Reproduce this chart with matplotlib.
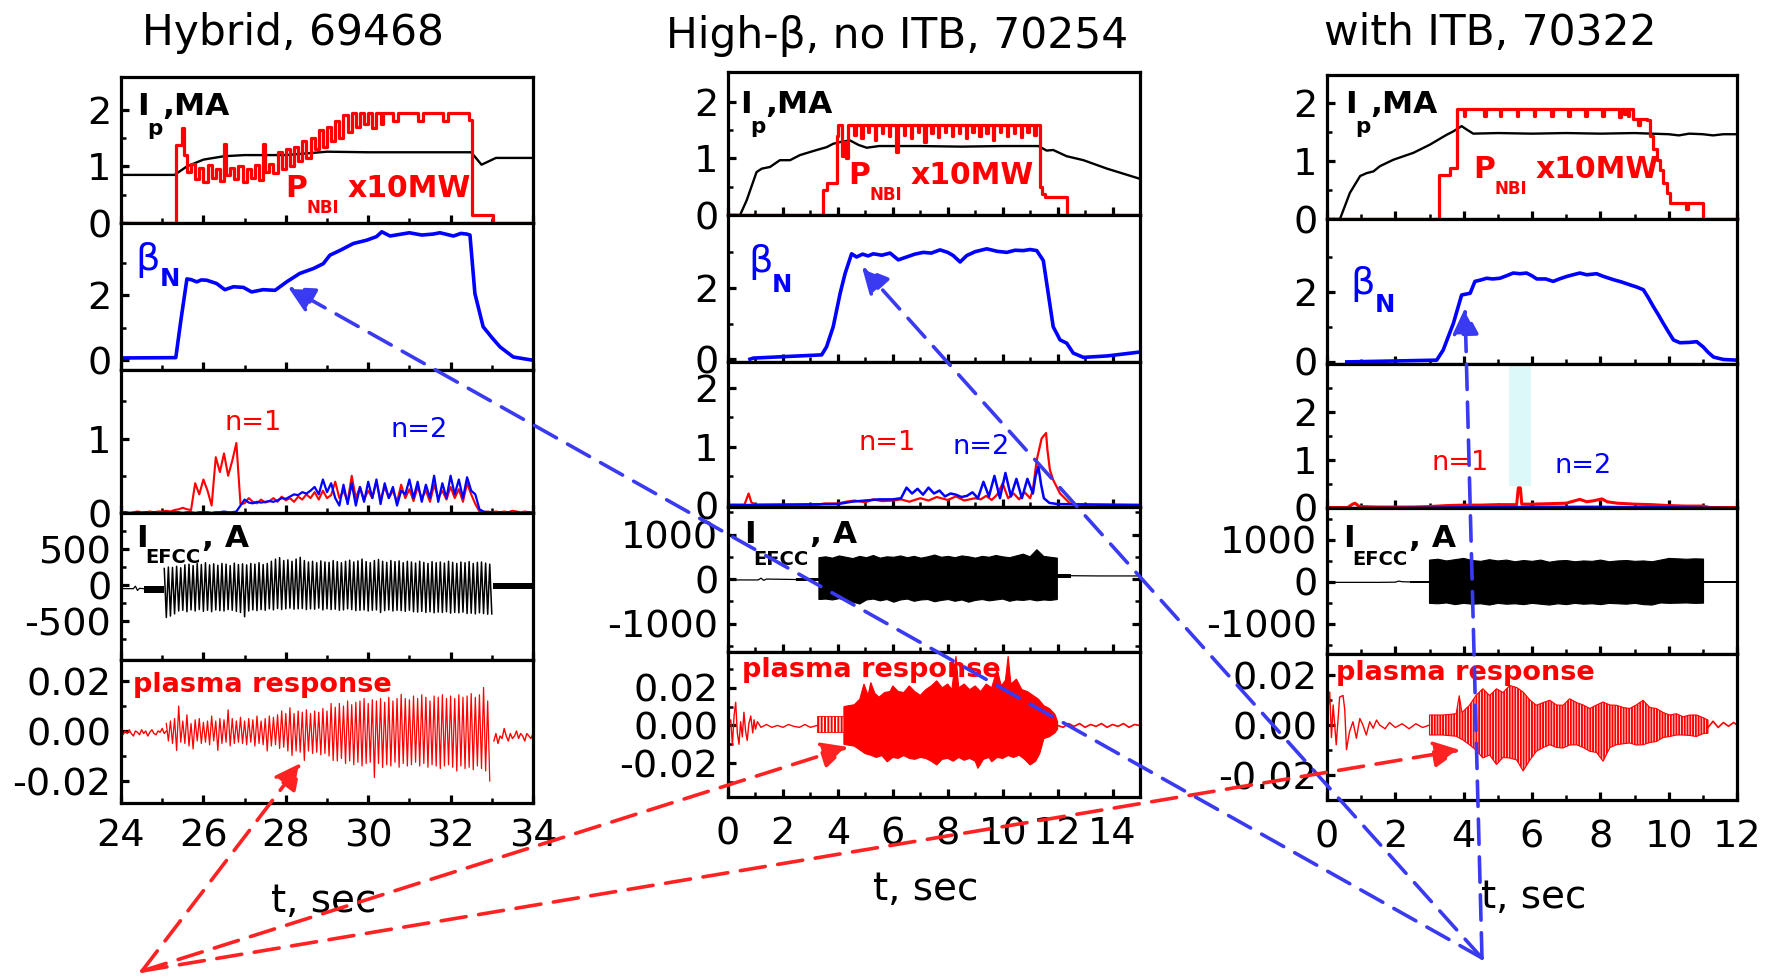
import numpy as np
import matplotlib
matplotlib.use("Agg")
import matplotlib.pyplot as plt
from matplotlib.patches import FancyArrowPatch, Rectangle
from matplotlib.ticker import FixedLocator, FormatStrFormatter

plt.rcParams["font.family"] = ["DejaVu Sans"]
plt.rcParams["axes.unicode_minus"] = False
plt.rcParams["hatch.linewidth"] = 1.4

# ---------------------------------------------------------------- data
TITLES = ["Hybrid, 69468", "High-\u03b2, no ITB, 70254", "with ITB, 70322"]

# ---- shot 69468 (hybrid)
ip1 = [(24.0, 0.85), (25.3, 0.85), (25.6, 1.0), (26.0, 1.12), (26.5, 1.18), (27.0, 1.2),
       (28.0, 1.2), (29.0, 1.26), (30.0, 1.25), (31.0, 1.25), (32.0, 1.25), (32.5, 1.25),
       (32.75, 1.03), (33.1, 1.15), (34.0, 1.15)]
pnbi1 = [(24.0, 0), (25.33, 1.38), (25.48, 1.68), (25.53, 1.2), (25.61, 0.9), (25.7, 1.05),
         (25.8, 0.78), (25.9, 0.98), (26.0, 0.72), (26.1, 1.02), (26.2, 0.8), (26.3, 0.95),
         (26.4, 0.74), (26.5, 1.4), (26.55, 0.85), (26.65, 0.98), (26.75, 0.78), (26.85, 1.0),
         (26.95, 0.72), (27.05, 0.95), (27.15, 0.8), (27.25, 1.02), (27.35, 0.76), (27.45, 1.4),
         (27.5, 0.9), (27.6, 1.05), (27.7, 0.88), (27.8, 1.25), (27.9, 0.95), (28.0, 1.3),
         (28.1, 1.0), (28.2, 1.35), (28.3, 1.1), (28.4, 1.45), (28.5, 1.15), (28.6, 1.5),
         (28.7, 1.3), (28.8, 1.65), (28.9, 1.35), (29.0, 1.7), (29.1, 1.45), (29.2, 1.8),
         (29.3, 1.5), (29.4, 1.9), (29.5, 1.6), (29.6, 1.94), (29.7, 1.7), (29.8, 1.94),
         (29.9, 1.75), (30.0, 1.94), (30.1, 1.68), (30.2, 1.94), (30.3, 1.75), (30.35, 1.94),
         (30.6, 1.8), (30.73, 1.94), (31.22, 1.8), (31.34, 1.94), (31.82, 1.8), (31.94, 1.94),
         (32.45, 1.82), (32.53, 0.15), (33.04, 0.0), (34.0, 0.0)]
beta1 = [(24.0, 0.07), (25.33, 0.08), (25.45, 1.2), (25.6, 2.5), (25.7, 2.48), (25.84, 2.41),
         (25.95, 2.47), (26.08, 2.46), (26.32, 2.36), (26.52, 2.17), (26.73, 2.26), (26.97, 2.24),
         (27.17, 2.1), (27.45, 2.17), (27.74, 2.15), (28.02, 2.41), (28.34, 2.67), (28.67, 2.82),
         (28.91, 2.97), (29.07, 3.23), (29.32, 3.38), (29.64, 3.59), (29.96, 3.69), (30.2, 3.8),
         (30.33, 3.95), (30.53, 3.82), (31.0, 3.92), (31.3, 3.85), (31.58, 3.88), (31.74, 3.92),
         (32.07, 3.82), (32.25, 3.9), (32.39, 3.88), (32.47, 3.85), (32.59, 2.05), (32.79, 1.03),
         (33.0, 0.7), (33.2, 0.41), (33.52, 0.1), (34.0, 0.0)]
# mode amplitudes sampled every 0.1 s from t = 24.0
n1_1 = [0.01, 0.01, 0.0, 0.01, 0.02, 0.01, 0.01, 0.02, 0.01, 0.02, 0.02, 0.03, 0.02, 0.04, 0.05,
        0.07, 0.05, 0.04, 0.4, 0.25, 0.45, 0.3, 0.1, 0.75, 0.55, 0.8, 0.5, 0.7, 0.94, 0.12,
        0.13, 0.2, 0.15, 0.13, 0.18, 0.14, 0.16, 0.2, 0.15, 0.22, 0.17, 0.2, 0.15, 0.22, 0.18,
        0.25, 0.2, 0.28, 0.18, 0.3,
        0.2, 0.24, 0.42, 0.2, 0.3, 0.15, 0.5, 0.2, 0.35, 0.18, 0.3, 0.2, 0.42, 0.18, 0.35,
        0.2, 0.3, 0.15, 0.38, 0.2,
        0.32, 0.16, 0.35, 0.2, 0.3, 0.15, 0.38, 0.2, 0.3, 0.18, 0.35, 0.2, 0.32, 0.15, 0.4,
        0.25, 0.12, 0.02, 0.01, 0.02,
        0.01, 0.02, 0.01, 0.02, 0.01, 0.03, 0.02, 0.01, 0.02, 0.01, 0.01]
n2_1 = [0.0, 0.01, 0.0, 0.0, 0.01, 0.0, 0.01, 0.0, 0.01, 0.0, 0.0, 0.01, 0.0, 0.01, 0.01,
        0.0, 0.01, 0.01, 0.0, 0.01, 0.01, 0.01, 0.0, 0.01, 0.01, 0.02, 0.01, 0.01, 0.02,
        0.1, 0.18, 0.14, 0.13, 0.15, 0.14, 0.15, 0.16, 0.15, 0.17, 0.2, 0.19, 0.22, 0.25, 0.24,
        0.28, 0.26, 0.3, 0.35, 0.25, 0.45,
        0.28, 0.4, 0.2, 0.1, 0.38, 0.12, 0.4, 0.1, 0.35, 0.15, 0.42, 0.2, 0.45, 0.12, 0.4,
        0.2, 0.35, 0.1, 0.3, 0.25,
        0.45, 0.2, 0.42, 0.15, 0.38, 0.2, 0.5, 0.15, 0.4, 0.2, 0.5, 0.25, 0.45, 0.2, 0.48,
        0.3, 0.25, 0.05, 0.02, 0.01,
        0.01, 0.0, 0.01, 0.0, 0.01, 0.0, 0.01, 0.0, 0.0, 0.01, 0.0]
# EFCC current: peak / trough of each 0.1 s cycle from t = 25.05
efcc1_up = [230, 250, 245, 260, 240, 280, 290, 270, 300, 285, 310, 280, 295, 275, 300, 290, 270, 305, 285, 295,
            280, 300, 290, 310, 285, 300, 330, 360, 380, 340, 350, 330, 360, 385, 340, 320, 330, 310, 335, 320,
            315, 340, 325, 310, 330, 345, 320, 335, 360, 325, 310, 340, 355, 330, 315, 340, 325, 335, 310, 330,
            320, 305, 330, 315, 300, 325, 310, 320, 305, 330, 315, 300, 320, 310, 325, 300, 315, 320, 305, 290]
efcc1_lo = [-450, -430, -400, -360, -350, -370, -345, -360, -340, -365, -350, -370, -345, -355, -360, -340, -350, -365, -380, -440,
            -360, -345, -355, -340, -350, -330, -345, -325, -340, -330, -320, -335, -330, -325, -340, -330, -335, -320, -345, -330,
            -340, -335, -350, -345, -330, -340, -355, -350, -345, -360, -350, -345, -380, -355, -345, -360, -350, -355, -365, -350,
            -370, -375, -365, -380, -370, -385, -375, -380, -370, -390, -380, -385, -375, -395, -390, -400, -385, -395, -405, -400]
efcc1_base = [(24.0, -50), (24.3, -50), (24.35, -15), (24.4, -75), (24.45, -45), (24.55, -50)]
efcc1_quiet = [(24.55, 25.05, -110, -10), (33.03, 34.0, -50, 30)]
# plasma response (x1e-3): pre/post noise and per-cycle extremes from t = 25.1
resp1_pre = [-0.5, -1.5, 0, -1, 0.5, -1, -2, 0, -0.5, -1.5, 0.5, -1, 0, -2, -0.5, 0.5, -1, -1.5, 0,
             -0.5, 1, -1, 0]
resp1_up = [3, 4, 5, 10, 4, 6.5, 3, 4.5, 5, 3.5, 4, 6, 4, 5, 4.5, 8.5, 5, 4, 5.5, 4,
            5, 4.5, 6, 4, 5, 6, 5.5, 6.5, 8, 7, 9.3, 7, 8, 7.5, 8.5, 7, 8, 7.5, 9, 8,
            11, 9.5, 11, 10, 12, 10.5, 11.5, 12, 13, 11, 12.5, 12, 13, 11.5, 13.5, 12, 13, 14.7, 13, 12.5,
            14, 13, 14.5, 13.5, 12, 14, 13.5, 14.5, 13, 14, 13, 14.5, 13.5, 14, 15, 13.5, 14.5, 17.4, 12]
resp1_lo = [-4, -5, -7.8, -4.5, -5, -6, -7.2, -4, -5, -4.5, -5.5, -4, -7.8, -5, -4.5, -6, -5, -4.5, -5, -5.5,
            -4.5, -6, -5, -5.5, -8, -6, -5.5, -7, -6.5, -8, -9.8, -8, -8.5, -11.8, -8, -9, -8.5, -9.5, -9, -10,
            -11.8, -12, -11, -13, -12, -13.5, -12.5, -14, -13, -12.5, -18.6, -13, -14.6, -13.5, -14, -12.5, -14.5, -13, -14, -13.5,
            -12.5, -14, -13, -14.5, -13.5, -14, -15, -14, -13.5, -14.5, -16, -14, -15, -14.5, -15.5, -14, -15, -16, -20]
resp1_post = [-4, -1, -5, -2, -3, 1, -2, -4, -1, -3, -2, 0, -3, -1, -2, -4, -1, -2, -3, -1]

# ---- shot 70254 (high beta, no ITB)
ip2 = [(0.0, 0.0), (0.44, 0.0), (0.68, 0.26), (1.04, 0.76), (1.23, 0.82), (1.53, 0.85), (1.89, 0.97),
       (2.26, 0.97), (2.62, 1.06), (3.23, 1.15), (3.59, 1.2), (3.83, 1.26), (4.08, 1.29), (4.44, 1.32),
       (4.75, 1.24), (5.05, 1.19), (5.5, 1.22), (7.0, 1.22), (8.5, 1.21), (10.0, 1.22), (11.3, 1.22),
       (11.6, 1.14), (11.84, 1.15), (12.33, 1.04), (12.94, 0.97), (13.8, 0.82), (15.0, 0.64)]
pnbi2 = [(0.0, 0.0), (3.45, 0.44), (3.59, 0.56), (3.96, 1.4), (4.02, 1.59), (4.15, 1.05), (4.22, 1.3),
         (4.3, 1.0), (4.36, 1.59), (4.6, 1.42), (4.65, 1.59), (4.85, 1.36), (4.9, 1.59), (5.1, 1.47),
         (5.15, 1.59), (5.35, 1.32), (5.4, 1.59), (5.6, 1.45), (5.65, 1.59), (5.85, 1.4), (5.9, 1.59),
         (6.1, 1.12), (6.18, 1.59), (6.4, 1.42), (6.45, 1.59), (6.65, 1.36), (6.7, 1.59), (6.9, 1.47),
         (6.95, 1.59), (7.15, 1.3), (7.2, 1.59), (7.4, 1.45), (7.45, 1.59), (7.65, 1.38), (7.7, 1.59),
         (7.9, 1.47), (7.95, 1.59), (8.15, 1.4), (8.2, 1.59), (8.4, 1.45), (8.45, 1.59), (8.65, 1.36),
         (8.7, 1.59), (8.9, 1.47), (8.95, 1.59), (9.15, 1.4), (9.2, 1.59), (9.4, 1.45), (9.45, 1.59),
         (9.65, 1.33), (9.7, 1.59), (9.9, 1.47), (9.95, 1.59), (10.15, 1.4), (10.2, 1.59), (10.4, 1.45),
         (10.45, 1.59), (10.65, 1.38), (10.7, 1.59), (10.9, 1.47), (10.95, 1.59), (11.15, 1.42),
         (11.2, 1.59), (11.36, 0.5), (11.42, 0.38), (11.55, 0.32), (12.33, 0.0), (15.0, 0.0)]
beta2 = [(0.8, 0.0), (0.92, 0.03), (3.41, 0.12), (3.59, 0.35), (3.83, 0.91), (4.08, 1.84), (4.26, 2.4),
         (4.5, 2.96), (4.68, 2.87), (4.9, 2.95), (5.1, 2.9), (5.29, 2.96), (5.6, 2.92), (5.9, 2.98),
         (6.2, 2.79), (6.5, 2.87), (6.8, 2.95), (7.11, 3.0), (7.4, 2.98), (7.72, 3.07), (8.0, 3.0),
         (8.2, 2.91), (8.45, 2.73), (8.69, 2.91), (9.0, 3.02), (9.42, 3.1), (9.8, 3.03), (10.15, 3.0),
         (10.45, 3.06), (10.75, 3.05), (11.0, 3.08), (11.24, 3.05), (11.48, 2.77), (11.66, 1.84),
         (11.84, 0.91), (12.09, 0.54), (12.33, 0.45), (12.57, 0.17), (12.94, 0.05), (13.8, 0.09),
         (15.0, 0.2)]
n1_2 = [(0.0, 0.01), (0.6, 0.01), (0.75, 0.2), (0.85, 0.05), (1.0, 0.01), (3.3, 0.01), (3.5, 0.03),
        (4.0, 0.03), (4.3, 0.06), (4.6, 0.08), (5.0, 0.05), (5.3, 0.1), (5.6, 0.07), (6.0, 0.08),
        (6.3, 0.1), (6.6, 0.06), (7.0, 0.12), (7.3, 0.08), (7.6, 0.14), (8.0, 0.09), (8.3, 0.15),
        (8.6, 0.08), (9.0, 0.12), (9.2, 0.1), (9.4, 0.16), (9.6, 0.09), (9.8, 0.18), (10.0, 0.37),
        (10.2, 0.12), (10.4, 0.2), (10.6, 0.1), (10.8, 0.22), (11.0, 0.12), (11.1, 0.26), (11.24, 0.77),
        (11.42, 1.14), (11.58, 1.23), (11.63, 0.94), (11.72, 0.6), (11.84, 0.43), (12.09, 0.2),
        (12.45, 0.03), (12.6, 0.01), (15.0, 0.01)]
n2_2 = [(0.0, 0.0), (4.0, 0.02), (4.5, 0.06), (5.0, 0.08), (5.5, 0.1), (6.0, 0.1), (6.3, 0.12),
        (6.5, 0.3), (6.7, 0.2), (6.9, 0.28), (7.1, 0.18), (7.3, 0.3), (7.5, 0.2), (7.7, 0.25),
        (7.9, 0.15), (8.1, 0.2), (8.3, 0.18), (8.5, 0.14), (8.7, 0.16), (8.9, 0.22), (9.1, 0.12),
        (9.3, 0.4), (9.5, 0.15), (9.7, 0.5), (9.9, 0.12), (10.1, 0.55), (10.3, 0.15), (10.5, 0.45),
        (10.7, 0.12), (10.9, 0.45), (11.1, 0.2), (11.2, 0.5), (11.3, 0.66), (11.4, 0.35), (11.5, 0.12),
        (11.7, 0.04), (12.0, 0.02), (15.0, 0.0)]
efcc2_base = [(0.0, -20), (1.1, -20), (1.2, 20), (1.3, -30), (1.4, 0), (2.46, -10)]
efcc2_post = [(12.5, 75), (13.5, 70), (15.0, 70)]
efcc2_quiet = [(2.46, 3.31, -45, 25), (11.99, 12.5, 30, 110)]
efcc2_span = (3.31, 11.99)
efcc2_up = [480, 500, 470, 520, 490, 460, 510, 480, 530, 470, 500, 490, 520, 480, 510, 470, 500, 540,
            490, 510, 480, 520, 500, 470, 510, 490, 530, 500, 480, 520, 560, 500, 660, 510, 490, 470]
efcc2_lo = [-460, -450, -470, -440, -480, -520, -560, -470, -450, -490, -460, -520, -470, -450, -500, -470,
            -460, -510, -480, -460, -500, -470, -520, -480, -460, -490, -470, -450, -500, -470, -480, -460,
            -490, -470, -480, -460]
resp2_pre = [(0.0, 0), (0.1, 3), (0.16, -10.5), (0.22, 5), (0.28, 12.3), (0.34, -4), (0.4, -10), (0.46, 2),
             (0.52, -6), (0.58, 7), (0.64, -3), (0.7, -8), (0.76, 1), (0.83, 5), (0.9, -4), (0.95, 3),
             (1.0, -2), (1.07, 2), (1.2, -1), (1.4, 0.5), (1.6, -1), (1.8, 0), (2.0, -1), (2.2, 0.5),
             (2.4, -0.5), (2.6, -1), (2.8, 0.5), (3.0, -1), (3.25, 0)]
resp2_quiet = (3.25, 4.22, -3.5, 5)
resp2_up = [(4.22, 10), (4.4, 10.5), (4.6, 11), (4.8, 14), (4.95, 22), (5.1, 16), (5.2, 22.8), (5.35, 17),
            (5.5, 15), (5.7, 17.5), (5.9, 18), (6.0, 21), (6.2, 18), (6.4, 17.5), (6.6, 21), (6.8, 18),
            (7.0, 16), (7.2, 19), (7.4, 21), (7.6, 23.7), (7.8, 20), (8.0, 22), (8.15, 19), (8.3, 36.8),
            (8.4, 20), (8.6, 22), (8.8, 19), (9.0, 21), (9.2, 18), (9.4, 22), (9.6, 20), (9.8, 29.8),
            (9.95, 21), (10.1, 24), (10.2, 36.8), (10.3, 22), (10.5, 24.6), (10.7, 19), (10.9, 18),
            (11.1, 16), (11.3, 14), (11.5, 10.5), (11.7, 9), (11.9, 6), (12.0, 2)]
resp2_lo = [(4.22, -10), (4.4, -10.5), (4.6, -11), (4.8, -13), (5.0, -15), (5.2, -15.8), (5.4, -17),
            (5.6, -16), (5.8, -19.3), (6.0, -17), (6.2, -17.5), (6.4, -16), (6.6, -17.5), (6.8, -18),
            (7.0, -17), (7.2, -17.5), (7.4, -19), (7.6, -21), (7.8, -18), (8.0, -17.5), (8.2, -19),
            (8.4, -17), (8.6, -18.5), (8.8, -17.5), (9.0, -19), (9.1, -22.8), (9.3, -18), (9.5, -17),
            (9.6, -19.3), (9.8, -17), (10.0, -17.5), (10.2, -16), (10.4, -17), (10.6, -15.8), (10.8, -18),
            (11.0, -21), (11.2, -19), (11.35, -15), (11.5, -7), (11.7, -6), (11.9, -4), (12.0, -2)]
resp2_post = [(12.0, 0), (12.2, -1), (12.4, 1), (12.6, -0.5), (12.8, 1), (13.0, -1), (13.2, 0.5),
              (13.4, -0.5), (13.6, 1), (13.8, -1), (14.0, 0.5), (14.2, -0.5), (14.4, 1), (14.6, -1),
              (14.8, 0.5), (15.0, 0)]

# ---- shot 70322 (with ITB)
ip3 = [(0.0, 0.0), (0.38, 0.0), (0.67, 0.45), (0.97, 0.74), (1.16, 0.79), (1.36, 0.82), (1.55, 0.91),
       (1.94, 1.02), (2.53, 1.14), (3.01, 1.28), (3.5, 1.45), (3.7, 1.51), (3.94, 1.6), (4.09, 1.54),
       (4.28, 1.47), (5.0, 1.48), (6.0, 1.47), (7.0, 1.48), (8.0, 1.47), (9.0, 1.48), (10.0, 1.46),
       (10.3, 1.44), (10.6, 1.47), (11.0, 1.46), (11.3, 1.44), (11.6, 1.46), (12.0, 1.46)]
pnbi3 = [(0.0, 0.0), (3.29, 0.75), (3.6, 0.88), (3.8, 1.9), (4.0, 1.77), (4.05, 1.9), (4.6, 1.77),
         (4.65, 1.9), (5.05, 1.77), (5.1, 1.9), (5.55, 1.77), (5.6, 1.9), (6.05, 1.77), (6.1, 1.9),
         (6.55, 1.77), (6.6, 1.9), (7.05, 1.77), (7.1, 1.9), (7.55, 1.77), (7.6, 1.9), (8.05, 1.77),
         (8.1, 1.9), (8.55, 1.75), (8.6, 1.9), (8.7, 1.8), (8.75, 1.9), (8.8, 1.78), (8.85, 1.9),
         (8.97, 1.72), (9.1, 1.62), (9.15, 1.72), (9.36, 1.71), (9.45, 1.43), (9.55, 1.2), (9.65, 1.02),
         (9.75, 0.85), (9.84, 0.62), (9.94, 0.45), (10.04, 0.28), (10.5, 0.18), (10.56, 0.28),
         (11.0, 0.0), (12.0, 0.0)]
beta3 = [(0.58, 0.0), (3.21, 0.05), (3.4, 0.34), (3.7, 1.11), (3.94, 1.92), (4.19, 1.97), (4.33, 2.31),
         (4.5, 2.35), (4.67, 2.4), (4.85, 2.38), (5.06, 2.4), (5.25, 2.47), (5.45, 2.55), (5.65, 2.53),
         (5.84, 2.55), (6.0, 2.47), (6.14, 2.38), (6.4, 2.38), (6.62, 2.31), (6.8, 2.38), (7.01, 2.45),
         (7.2, 2.5), (7.4, 2.55), (7.6, 2.5), (7.89, 2.53), (8.1, 2.45), (8.38, 2.36), (8.6, 2.3),
         (8.87, 2.21), (9.06, 2.15), (9.26, 2.07), (9.4, 1.85), (9.55, 1.59), (9.7, 1.35), (9.84, 1.11),
         (10.0, 0.85), (10.14, 0.63), (10.33, 0.55), (10.6, 0.56), (10.82, 0.58), (11.01, 0.43),
         (11.15, 0.28), (11.31, 0.14), (11.6, 0.07), (12.0, 0.05)]
n1_3 = [(0.0, 0.01), (0.6, 0.01), (0.75, 0.08), (0.82, 0.1), (0.95, 0.03), (1.5, 0.02), (2.5, 0.02),
        (3.0, 0.03), (3.5, 0.05), (4.0, 0.06), (4.5, 0.06), (5.0, 0.07), (5.55, 0.07), (5.6, 0.42),
        (5.66, 0.42), (5.7, 0.08), (6.0, 0.08), (6.5, 0.09), (7.0, 0.1), (7.2, 0.14), (7.4, 0.18),
        (7.6, 0.13), (7.8, 0.15), (8.05, 0.19), (8.2, 0.13), (8.5, 0.1), (9.0, 0.08), (9.5, 0.07),
        (10.0, 0.05), (10.5, 0.04), (11.0, 0.04), (11.2, 0.01), (12.0, 0.01)]
n2_3 = [(0.0, 0.0), (3.0, 0.01), (4.0, 0.02), (5.0, 0.02), (6.0, 0.03), (7.0, 0.03), (8.0, 0.03),
        (9.0, 0.02), (10.0, 0.02), (11.0, 0.01), (12.0, 0.0)]
itb_band = (5.34, 5.96, 0.46)          # t start, t end, lower edge
efcc3_base = [(0.0, -10), (1.5, -10), (2.0, -5), (2.1, 20), (2.2, 5), (2.42, 0)]
efcc3_quiet = [(2.42, 3.0, -25, 25), (11.02, 12.0, -20, 30)]
efcc3_span = (3.0, 11.02)
efcc3_up = [520, 540, 500, 530, 560, 510, 490, 530, 500, 520, 480, 510, 490, 520, 470, 500, 510,
            480, 500, 490, 520, 480, 500, 510, 490, 500, 480, 520, 560, 550, 540, 550, 545]
efcc3_lo = [-510, -520, -500, -540, -510, -530, -520, -550, -510, -530, -520, -540, -510, -530, -550,
            -520, -540, -510, -530, -520, -540, -510, -520, -530, -510, -540, -550, -500, -510, -505,
            -500, -510, -505]
resp3_pre = [(0.0, 2), (0.08, 13.2), (0.13, -5), (0.18, 8), (0.27, -7.9), (0.37, 11.2), (0.47, 11.8),
             (0.52, 6), (0.57, -9.9), (0.66, -2.6), (0.76, 1.3), (0.86, -5.3), (0.96, 2.6), (1.05, 0),
             (1.15, -4), (1.25, 1.3), (1.35, -1.3), (1.45, 2), (1.54, 0), (1.7, -1.5), (1.83, 1),
             (2.0, -1), (2.2, 0.5), (2.4, -1.5), (2.6, 0.5), (2.8, -1), (3.0, 0)]
resp3_up = [(3.0, 4), (3.39, 4), (3.78, 4.5), (3.87, 11.8), (3.95, 5), (4.17, 7.9), (4.36, 11.8),
            (4.56, 14.5), (4.76, 11.8), (4.96, 14.5), (5.15, 13), (5.35, 15.8), (5.55, 15), (5.74, 13.2),
            (5.94, 10), (6.13, 7.9), (6.33, 9), (6.52, 9.9), (6.72, 8), (6.91, 7.9), (7.1, 10.5),
            (7.3, 9), (7.5, 8), (7.69, 6.6), (7.89, 8), (8.08, 9.2), (8.28, 8), (8.47, 7.9), (8.67, 7),
            (8.86, 6.6), (9.05, 8), (9.25, 9.9), (9.45, 7), (9.64, 6.6), (9.84, 5), (10.03, 4),
            (10.23, 4.5), (10.42, 3.3), (10.62, 4), (10.81, 4), (11.0, 3), (11.15, 2)]
resp3_lo = [(3.0, -4), (3.39, -4), (3.78, -4.5), (3.98, -6), (4.17, -7.9), (4.36, -10), (4.56, -13.2),
            (4.76, -12), (4.96, -15.8), (5.15, -13), (5.35, -13.2), (5.55, -14), (5.74, -18.4),
            (5.94, -14), (6.13, -10.5), (6.33, -9), (6.52, -7.9), (6.72, -9), (6.91, -9.2), (7.1, -8),
            (7.3, -7.9), (7.5, -9), (7.69, -10.5), (7.89, -11), (8.08, -14.5), (8.28, -9), (8.47, -7.9),
            (8.67, -7.5), (8.86, -7.2), (9.05, -8), (9.25, -7.9), (9.45, -7), (9.64, -6.6), (9.84, -5),
            (10.03, -4.6), (10.23, -4), (10.42, -4), (10.62, -4.2), (10.81, -4.6), (11.0, -3.5),
            (11.15, -3.3)]
resp3_post = [(11.15, -1), (11.3, 1.5), (11.45, -1), (11.6, 1), (11.75, -0.5), (11.9, 1), (12.0, 0)]

# ---------------------------------------------------------------- layout (pixels)
W, H = 1777, 980
fig = plt.figure(figsize=(W / 100, H / 100), dpi=100)

COLS = [
    dict(left=121, right=533, rows=[77, 223, 370, 513, 660, 803], xlim=(24, 34),
         xmaj=np.arange(24, 35, 2), xmin=np.arange(25, 34, 2), xpad=11,
         ylims=[(0, 2.58), (-0.3, 4.22), (0, 1.92), (-1040, 1000), (-0.0288, 0.0284)],
         ymaj=[[0, 1, 2], [0, 2], [0, 1], [-500, 0, 500], [-0.02, 0, 0.02]],
         ymin=[[0.5, 1.5], [1, 3], [0.5, 1.5], [-750, -250, 250, 750], [-0.01, 0.01]]),
    dict(left=728, right=1140, rows=[72, 215, 362, 507, 652, 797], xlim=(0, 15),
         xmaj=np.arange(0, 15, 2), xmin=np.arange(1, 16, 2), xpad=14,
         ylims=[(0, 2.53), (-0.08, 4.05), (-0.03, 2.44), (-1640, 1620), (-0.038, 0.039)],
         ymaj=[[0, 1, 2], [0, 2], [0, 1, 2], [-1000, 0, 1000], [-0.02, 0, 0.02]],
         ymin=[[0.5, 1.5], [1, 3], [0.5, 1.5], [-1500, -500, 500, 1500], [-0.03, -0.01, 0.01, 0.03]]),
    dict(left=1327, right=1737, rows=[75, 219, 364, 508, 654, 800], xlim=(0, 12),
         xmaj=np.arange(0, 13, 2), xmin=np.arange(1, 12, 2), xpad=14,
         ylims=[(0, 2.48), (-0.06, 4.1), (0, 3.0), (-1715, 1760), (-0.030, 0.0284)],
         ymaj=[[0, 1, 2], [0, 2], [0, 1, 2], [-1000, 0, 1000], [-0.02, 0, 0.02]],
         ymin=[[0.5, 1.5], [1, 3], [0.5, 1.5, 2.5], [-1500, -500, 500, 1500], [-0.01, 0.01]]),
]

RED, BLUE, BLACK = "#ff0000", "#0000ff", "#000000"


def xy(p):
    a = np.asarray(p, float)
    return a[:, 0], a[:, 1]


def make_axes(c):
    axes = []
    for i in range(5):
        top, bot = c["rows"][i], c["rows"][i + 1]
        ax = fig.add_axes([c["left"] / W, 1 - bot / H, (c["right"] - c["left"]) / W, (bot - top) / H])
        ax.set_xlim(*c["xlim"])
        ax.set_ylim(*c["ylims"][i])
        ax.xaxis.set_major_locator(FixedLocator(c["xmaj"]))
        ax.xaxis.set_minor_locator(FixedLocator(c["xmin"]))
        ax.yaxis.set_major_locator(FixedLocator(c["ymaj"][i]))
        ax.yaxis.set_minor_locator(FixedLocator(c["ymin"][i]))
        for s in ax.spines.values():
            s.set_linewidth(2.3)
        ax.tick_params(which="both", direction="in", top=False, right=False)
        ax.tick_params(which="major", length=6, width=2.3, labelsize=27.5, pad=7)
        ax.tick_params(which="minor", length=3.5, width=1.8)
        ax.tick_params(axis="x", labelbottom=(i == 4), pad=c["xpad"])
        if i == 4:
            ax.yaxis.set_major_formatter(FormatStrFormatter("%.2f"))
        axes.append(ax)
    return axes


def compose(ax, x, y, parts, color):
    for s, dx, dy, size, weight in parts:
        ax.annotate(s, (x, y), xycoords="axes fraction", xytext=(dx * 0.72, dy * 0.72),
                    textcoords="offset points", fontsize=size, fontweight=weight, color=color,
                    ha="left", va="baseline", annotation_clip=False, zorder=6)


def zigzag(t0, period, ups, lows):
    n = min(len(ups), len(lows))
    t = np.empty(2 * n)
    v = np.empty(2 * n)
    t[0::2] = t0 + period * np.arange(n)
    t[1::2] = t[0::2] + period / 2
    v[0::2] = np.asarray(ups[:n], float)
    v[1::2] = np.asarray(lows[:n], float)
    return t, v


def envelope(ax, span, up, lo, **kw):
    tu = np.linspace(span[0], span[1], len(up))
    tl = np.linspace(span[0], span[1], len(lo))
    ax.fill(np.r_[tu, tl[::-1]], np.r_[up, lo[::-1]], **kw)


def poly_env(ax, up, lo, scale=1.0, **kw):
    tu, vu = xy(up)
    tl, vl = xy(lo)
    ax.fill(np.r_[tu, tl[::-1]], np.r_[vu, vl[::-1]] * scale, **kw)


def top_panels(axes, ip, pnbi, beta):
    t, v = xy(ip)
    axes[0].plot(t, v, color=BLACK, lw=1.7, zorder=2)
    t, v = xy(pnbi)
    axes[0].step(t, v, where="post", color=RED, lw=2.3, zorder=3, clip_on=False)
    t, v = xy(beta)
    axes[1].plot(t, v, color=BLUE, lw=2.6, zorder=2)


A = [make_axes(c) for c in COLS]

# ---------------------------------------------------------------- column 1
a = A[0]
top_panels(a, ip1, pnbi1, beta1)
tt = 24.0 + 0.1 * np.arange(len(n1_1))
a[2].plot(tt, n1_1, color=RED, lw=1.5)
tt = 24.0 + 0.1 * np.arange(len(n2_1))
a[2].plot(tt, n2_1, color=BLUE, lw=1.6)
t, v = xy(efcc1_base)
a[3].plot(t, v, color=BLACK, lw=0.9)
for t0, t1, lo, hi in efcc1_quiet:
    a[3].fill_between([t0, t1], [lo, lo], [hi, hi], color=BLACK, lw=0)
t, v = zigzag(25.05, 0.1, efcc1_up, efcc1_lo)
a[3].plot(t, v, color=BLACK, lw=1.1)
tt = 24.0 + 0.05 * np.arange(len(resp1_pre))
a[4].plot(tt, np.asarray(resp1_pre) * 1e-3, color=RED, lw=1.0)
t, v = zigzag(25.1, 0.1, resp1_up, resp1_lo)
a[4].plot(t, v * 1e-3, color=RED, lw=0.9)
tt = 33.05 + 0.05 * np.arange(len(resp1_post))
a[4].plot(tt, np.asarray(resp1_post) * 1e-3, color=RED, lw=1.0)

# ---------------------------------------------------------------- column 2
a = A[1]
top_panels(a, ip2, pnbi2, beta2)
t, v = xy(n1_2)
a[2].plot(t, v, color=RED, lw=1.6)
t, v = xy(n2_2)
a[2].plot(t, v, color=BLUE, lw=1.8)
for base in (efcc2_base, efcc2_post):
    t, v = xy(base)
    a[3].plot(t, v, color=BLACK, lw=0.9)
for t0, t1, lo, hi in efcc2_quiet:
    a[3].fill_between([t0, t1], [lo, lo], [hi, hi], color=BLACK, lw=0)
envelope(a[3], efcc2_span, np.asarray(efcc2_up, float), np.asarray(efcc2_lo, float),
         facecolor=BLACK, edgecolor=BLACK, lw=0.8)
t, v = xy(resp2_pre)
a[4].plot(t, v * 1e-3, color=RED, lw=1.0)
a[4].fill_between(resp2_quiet[:2], [resp2_quiet[2] * 1e-3] * 2, [resp2_quiet[3] * 1e-3] * 2,
                  facecolor="none", edgecolor=RED, hatch="|||||", lw=0.6)
poly_env(a[4], resp2_up, resp2_lo, 1e-3, facecolor=RED, edgecolor=RED, lw=0.8)
t, v = xy(resp2_post)
a[4].plot(t, v * 1e-3, color=RED, lw=1.2)

# ---------------------------------------------------------------- column 3
a = A[2]
top_panels(a, ip3, pnbi3, beta3)
a[2].add_patch(Rectangle((itb_band[0], itb_band[2]), itb_band[1] - itb_band[0],
                         a[2].get_ylim()[1] - itb_band[2], facecolor="#ddf8f8", lw=0, zorder=0.5))
t, v = xy(n1_3)
a[2].plot(t, v, color=RED, lw=2.2)
t, v = xy(n2_3)
a[2].plot(t, v, color=BLUE, lw=1.4)
t, v = xy(efcc3_base)
a[3].plot(t, v, color=BLACK, lw=0.9)
for t0, t1, lo, hi in efcc3_quiet:
    a[3].fill_between([t0, t1], [lo, lo], [hi, hi], color=BLACK, lw=0)
envelope(a[3], efcc3_span, np.asarray(efcc3_up, float), np.asarray(efcc3_lo, float),
         facecolor=BLACK, edgecolor=BLACK, lw=0.8)
t, v = xy(resp3_pre)
a[4].plot(t, v * 1e-3, color=RED, lw=1.0)
poly_env(a[4], resp3_up, resp3_lo, 1e-3, facecolor="none", edgecolor=RED, hatch="||||||", lw=0.8)
t, v = xy(resp3_post)
a[4].plot(t, v * 1e-3, color=RED, lw=1.2)

# col2: ticks on the right edge of the coil-current panel
A[1][3].tick_params(which="both", right=True)

# ---------------------------------------------------------------- panel labels
IP_POS = [(0.039, 0.740), (0.029, 0.713), (0.044, 0.736)]
NBI_POS = [(0.398, 0.178), (0.291, 0.217), (0.356, 0.285)]
BETA_POS = [(0.034, 0.680), (0.049, 0.612), (0.056, 0.483)]
BETA_SUB = [(25, -16), (24, -20), (25, -18)]
N1_POS = [(0.252, 0.58), (0.316, 0.39), (0.256, 0.264)]
N2_POS = [(0.655, 0.53), (0.544, 0.366), (0.556, 0.243)]
EFCC_POS = [(0.036, 0.769), (0.039, 0.752), (0.039, 0.733)]
EFCC_SUB = [-16, -22, -18]
RESP_POS = [(0.03, 0.776), (0.034, 0.83), (0.022, 0.82)]

for k in range(3):
    a = A[k]
    compose(a[0], *IP_POS[k], [("I", 0, 0, 22.5, "bold"), ("p", 10, -20, 15.5, "bold"),
                               (",MA", 25, 0, 22.5, "bold")], BLACK)
    compose(a[0], *NBI_POS[k], [("P", 0, 0, 21.5, "bold"), ("NBI", 22, -16, 12, "bold"),
                                ("x10MW", 63, 0, 21.5, "bold")], RED)
    compose(a[1], *BETA_POS[k], [("\u03b2", 0, 0, 27.5, "normal"),
                                 ("N", BETA_SUB[k][0], BETA_SUB[k][1], 17.5, "bold")], BLUE)
    compose(a[2], *N1_POS[k], [("n=1", 0, 0, 19.5, "normal")], RED)
    compose(a[2], *N2_POS[k], [("n=2", 0, 0, 19.5, "normal")], BLUE)
    compose(a[3], *EFCC_POS[k], [("I", 0, 0, 22.5, "bold"), ("EFCC", 9, EFCC_SUB[k], 14, "bold"),
                                 (", A", 66, 0, 22.5, "bold")], BLACK)
    compose(a[4], *RESP_POS[k], [("plasma response", 0, 0, 19.5, "bold")], RED)

# ---------------------------------------------------------------- titles and axis captions
TITLE_POS = [(293, 45), (897, 48), (1490, 45)]
XLAB_POS = [(324, 912), (926, 900), (1534, 908)]
for k in range(3):
    fig.text(TITLE_POS[k][0] / W, 1 - TITLE_POS[k][1] / H, TITLES[k], ha="center",
             va="baseline", fontsize=30.5)
    fig.text(XLAB_POS[k][0] / W, 1 - XLAB_POS[k][1] / H, "t, sec", ha="center",
             va="baseline", fontsize=28)

# ---------------------------------------------------------------- dashed pointers
BLUE_FROM = (1482, 958)
BLUE_TO = [(288, 287), (862, 267), (1465, 308)]
RED_FROM = (142, 971)
RED_TO = [(301, 763), (848, 747), (1460, 750)]


def pointer(src, dst, color):
    p = FancyArrowPatch((src[0] / W, 1 - src[1] / H), (dst[0] / W, 1 - dst[1] / H),
                        transform=fig.transFigure, arrowstyle="-|>,head_length=0.8,head_width=0.4",
                        mutation_scale=20, color=color, lw=2.6, linestyle=(0, (7, 3.5)),
                        shrinkA=0, shrinkB=0, zorder=10)
    fig.add_artist(p)


for d in BLUE_TO:
    pointer(BLUE_FROM, d, "#3a3af2")
for d in RED_TO:
    pointer(RED_FROM, d, "#ff2222")

fig.savefig("out.png", dpi=100)
